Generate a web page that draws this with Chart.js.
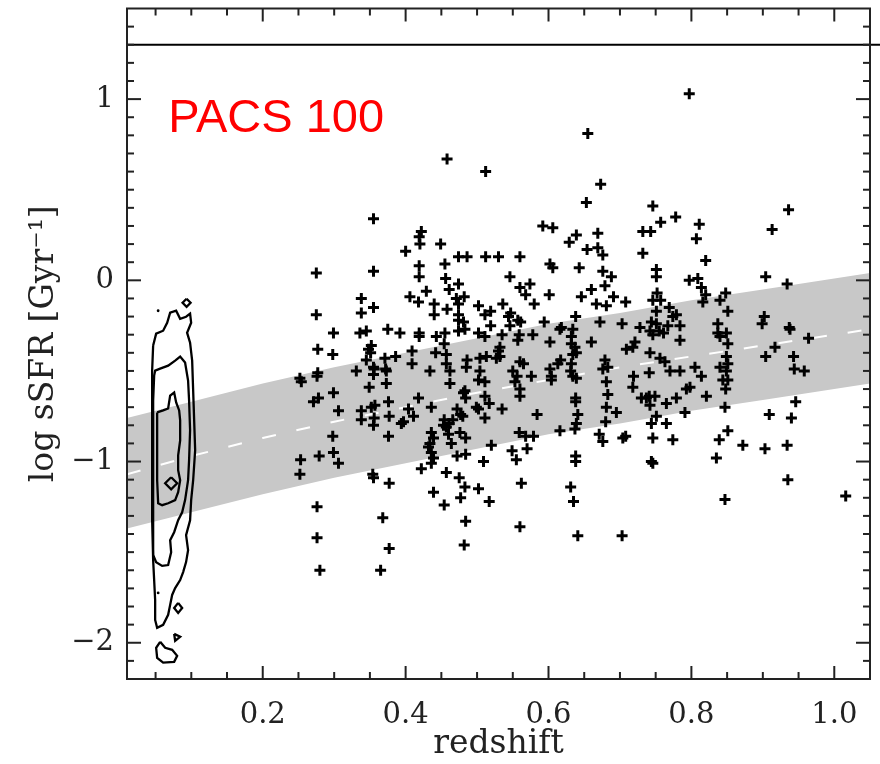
<!DOCTYPE html>
<html><head><meta charset="utf-8">
<script src="https://cdn.jsdelivr.net/npm/chart.js@4.4.1/dist/chart.umd.min.js"></script>
<style>html,body{margin:0;padding:0;background:#fff;}canvas{display:block;}</style>
</head><body>
<canvas id="c" width="880" height="764"></canvas>
<script>
// ---- axes ----
const xRange = [0.01, 1.05];
const yRange = [-2.2, 1.5];
const xTicks = [0.2, 0.4, 0.6, 0.8, 1.0];
const yTicks = [-2, -1, 0, 1];
const xMinorStep = 0.05;
const yMinorStep = 0.1;
const refLineY = 1.3;
const panelLabel = 'PACS 100';
const xTitle = 'redshift';
const yTitle = 'log sSFR [Gyr\u207B\u00B9]';

// ---- main-sequence band ----
const bandZ     = [0.01, 0.1, 0.2, 0.3, 0.4, 0.5, 0.6, 0.7, 0.8, 0.9, 1.0, 1.05];
const bandUpper = [-0.76, -0.67, -0.57, -0.48, -0.40, -0.32, -0.24, -0.18, -0.11, -0.05, 0.01, 0.04];
const bandMid   = [-1.07, -0.97, -0.87, -0.78, -0.70, -0.62, -0.55, -0.48, -0.42, -0.36, -0.30, -0.27];
const bandLower = [-1.37, -1.28, -1.18, -1.09, -1.01, -0.93, -0.85, -0.79, -0.72, -0.66, -0.60, -0.57];

// ---- PACS 100 detected galaxies: [redshift, log sSFR] ----
const galaxies = [
[0.458,0.67],[0.512,0.60],[0.355,0.34],[0.419,0.24],[0.422,0.27],[0.420,0.20],[0.449,0.20],[0.400,0.16],
[0.474,0.13],[0.486,0.13],[0.512,0.13],[0.530,0.13],[0.275,0.04],[0.355,0.05],[0.419,0.08],[0.419,0.02],
[0.455,0.09],[0.456,0.01],[0.474,-0.02],[0.429,-0.06],[0.461,-0.05],[0.406,-0.09],[0.418,-0.12],[0.482,-0.09],
[0.471,-0.10],[0.338,-0.10],[0.338,-0.18],[0.355,-0.15],[0.275,-0.19],[0.440,-0.13],[0.440,-0.19],[0.458,-0.16],
[0.474,-0.13],[0.474,-0.19],[0.502,-0.14],[0.511,-0.19],[0.519,-0.17],[0.299,-0.29],[0.336,-0.29],[0.345,-0.28],
[0.375,-0.27],[0.392,-0.29],[0.474,-0.22],[0.481,-0.23],[0.474,-0.28],[0.483,-0.27],[0.519,-0.25],[0.419,-0.29],
[0.419,-0.31],[0.443,-0.31],[0.455,-0.29],[0.454,-0.35],[0.502,-0.29],[0.511,-0.31],[0.277,-0.38],[0.298,-0.41],
[0.348,-0.38],[0.352,-0.36],[0.351,-0.40],[0.345,-0.44],[0.355,-0.48],[0.371,-0.43],[0.373,-0.50],[0.386,-0.42],
[0.409,-0.39],[0.409,-0.46],[0.434,-0.50],[0.442,-0.40],[0.457,-0.41],[0.457,-0.46],[0.462,-0.50],[0.486,-0.44],
[0.485,-0.48],[0.504,-0.43],[0.513,-0.42],[0.530,-0.39],[0.527,-0.43],[0.504,-0.50],[0.502,-0.55],[0.511,-0.56],
[0.252,-0.54],[0.254,-0.56],[0.277,-0.51],[0.276,-0.53],[0.331,-0.50],[0.356,-0.49],[0.355,-0.52],[0.372,-0.49],
[0.349,-0.59],[0.373,-0.57],[0.462,-0.57],
[0.797,1.03],[0.655,0.81],[0.673,0.53],[0.653,0.43],[0.592,0.30],[0.606,0.29],[0.629,0.21],[0.639,0.25],
[0.669,0.26],[0.654,0.17],[0.669,0.18],[0.676,0.14],[0.746,0.41],[0.757,0.32],[0.778,0.35],[0.732,0.27],
[0.743,0.27],[0.811,0.31],[0.807,0.23],[0.820,0.11],[0.732,0.15],[0.913,0.28],[0.936,0.39],[0.560,0.13],
[0.602,0.09],[0.606,0.07],[0.643,0.07],[0.676,0.05],[0.688,0.02],[0.679,-0.03],[0.660,-0.05],[0.646,-0.09],
[0.546,0.02],[0.560,-0.04],[0.574,-0.02],[0.568,-0.08],[0.580,-0.13],[0.601,-0.08],[0.667,-0.13],[0.681,-0.14],
[0.691,-0.09],[0.708,-0.12],[0.751,0.06],[0.751,0.02],[0.752,-0.07],[0.746,-0.11],[0.757,-0.11],[0.769,-0.15],
[0.751,-0.17],[0.797,0.00],[0.809,0.01],[0.814,-0.04],[0.820,-0.08],[0.816,-0.12],[0.840,-0.11],[0.848,-0.07],
[0.851,-0.17],[0.904,0.02],[0.934,-0.02],[0.902,-0.20],[0.899,-0.24],[0.937,-0.26],[0.938,-0.27],[0.964,-0.32],
[0.917,-0.37],[0.904,-0.42],[0.943,-0.42],[0.944,-0.49],[0.958,-0.50],[0.536,-0.13],[0.544,-0.20],[0.547,-0.18],
[0.557,-0.22],[0.561,-0.23],[0.546,-0.25],[0.559,-0.30],[0.557,-0.33],[0.578,-0.30],[0.594,-0.23],[0.616,-0.27],
[0.618,-0.26],[0.634,-0.27],[0.638,-0.20],[0.672,-0.23],[0.703,-0.24],[0.728,-0.26],[0.744,-0.23],[0.751,-0.24],
[0.742,-0.28],[0.746,-0.30],[0.755,-0.28],[0.761,-0.29],[0.774,-0.20],[0.779,-0.19],[0.784,-0.25],[0.767,-0.25],
[0.837,-0.24],[0.837,-0.29],[0.840,-0.31],[0.849,-0.29],[0.851,-0.35],[0.849,-0.42],[0.851,-0.46],[0.840,-0.48],
[0.849,-0.50],[0.844,-0.55],[0.851,-0.55],[0.848,-0.60],[0.602,-0.34],[0.660,-0.34],[0.632,-0.31],[0.632,-0.35],
[0.637,-0.37],[0.634,-0.41],[0.639,-0.40],[0.632,-0.46],[0.532,-0.37],[0.532,-0.42],[0.560,-0.45],[0.565,-0.46],
[0.576,-0.53],[0.617,-0.44],[0.613,-0.46],[0.602,-0.49],[0.604,-0.53],[0.604,-0.55],[0.631,-0.50],[0.634,-0.53],
[0.639,-0.54],[0.679,-0.44],[0.676,-0.49],[0.683,-0.48],[0.681,-0.56],[0.709,-0.38],[0.718,-0.37],[0.721,-0.34],
[0.719,-0.53],[0.718,-0.59],[0.741,-0.51],[0.742,-0.40],[0.756,-0.43],[0.763,-0.45],[0.770,-0.50],[0.784,-0.50],
[0.784,-0.33],[0.805,-0.48],[0.814,-0.53],[0.793,-0.60],[0.798,-0.59],[0.550,-0.50],[0.556,-0.53],[0.553,-0.56],
[0.560,-0.60],[0.535,-0.30],
[0.299,-0.62],[0.271,-0.67],[0.278,-0.65],[0.306,-0.72],[0.338,-0.72],[0.338,-0.77],[0.352,-0.70],[0.357,-0.69],
[0.356,-0.76],[0.355,-0.80],[0.376,-0.67],[0.377,-0.75],[0.376,-0.86],[0.298,-0.86],[0.253,-0.99],[0.252,-1.07],
[0.279,-0.97],[0.299,-0.95],[0.306,-1.01],[0.354,-1.07],[0.355,-1.09],[0.377,-1.12],[0.404,-0.71],[0.411,-0.75],
[0.397,-0.78],[0.394,-0.79],[0.418,-0.65],[0.436,-0.70],[0.483,-0.61],[0.484,-0.65],[0.481,-0.62],[0.511,-0.64],
[0.517,-0.68],[0.499,-0.70],[0.502,-0.71],[0.472,-0.71],[0.477,-0.74],[0.466,-0.77],[0.480,-0.75],[0.454,-0.77],
[0.461,-0.79],[0.457,-0.81],[0.453,-0.80],[0.436,-0.84],[0.439,-0.87],[0.434,-0.90],[0.432,-0.92],[0.436,-0.95],
[0.439,-0.98],[0.436,-1.01],[0.422,-1.04],[0.460,-0.85],[0.476,-0.84],[0.484,-0.87],[0.464,-0.90],[0.472,-0.97],
[0.484,-0.96],[0.509,-1.00],[0.520,-0.91],[0.511,-0.76],[0.535,-0.71],[0.457,-1.06],[0.475,-1.09],[0.483,-1.14],
[0.477,-1.20],[0.439,-1.17],[0.454,-1.24],[0.502,-1.15],[0.517,-1.22],[0.484,-1.33],[0.482,-1.46],[0.368,-1.31],
[0.377,-1.48],[0.276,-1.25],[0.276,-1.42],[0.280,-1.60],[0.365,-1.60],[0.560,-0.64],[0.559,-0.84],[0.549,-0.94],
[0.555,-0.99],
[0.584,-0.74],[0.616,-0.83],[0.568,-0.86],[0.579,-0.86],[0.570,-0.93],[0.562,-1.12],[0.560,-1.36],[0.638,-0.65],
[0.638,-0.67],[0.641,-0.74],[0.639,-0.79],[0.637,-0.82],[0.638,-0.97],[0.638,-1.00],[0.631,-1.14],[0.635,-1.22],
[0.641,-1.41],[0.683,-0.63],[0.681,-0.70],[0.695,-0.73],[0.680,-0.78],[0.671,-0.85],[0.676,-0.89],[0.704,-0.87],
[0.708,-0.86],[0.730,-0.65],[0.737,-0.65],[0.741,-0.64],[0.749,-0.64],[0.742,-0.69],[0.751,-0.75],[0.744,-0.79],
[0.765,-0.68],[0.765,-0.79],[0.779,-0.65],[0.791,-0.73],[0.821,-0.64],[0.746,-0.87],[0.774,-0.88],[0.744,-1.00],
[0.746,-1.01],[0.703,-1.41],[0.847,-0.70],[0.851,-0.83],[0.839,-0.88],[0.835,-0.98],[0.847,-1.21],[0.872,-0.91],
[0.903,-0.93],[0.909,-0.74],[0.940,-0.76],[0.946,-0.67],[0.934,-0.91],[0.935,-1.10],[1.016,-1.19]
];

// ---- local (SDSS) density contours: [redshift, log sSFR] ----
const contourOuter = [
[0.0466,-0.360],[0.0508,-0.294],[0.0606,-0.278],[0.0662,-0.234],[0.0704,-0.179],[0.0788,-0.168],[0.0844,-0.212],
[0.0927,-0.201],[0.0983,-0.184],[0.0998,-0.234],[0.0941,-0.289],[0.0983,-0.344],[0.1012,-0.443],[0.1026,-0.608],
[0.1040,-0.773],[0.1054,-0.938],[0.1026,-1.103],[0.0998,-1.213],[0.0983,-1.324],[0.0927,-1.406],[0.0955,-1.489],
[0.0927,-1.555],[0.0886,-1.610],[0.0844,-1.654],[0.0774,-1.698],[0.0732,-1.736],[0.0704,-1.791],[0.0676,-1.846],
[0.0606,-1.901],[0.0522,-1.918],[0.0494,-1.874],[0.0494,-1.764],[0.0480,-1.654],[0.0466,-1.544],[0.0452,-1.324],
[0.0452,-1.103],[0.0452,-0.883],[0.0452,-0.663],[0.0452,-0.498],[0.0466,-0.360]
];
const contourMiddle = [
[0.0480,-0.526],[0.0494,-0.498],[0.0564,-0.487],[0.0676,-0.471],[0.0774,-0.443],[0.0844,-0.421],[0.0913,-0.454],
[0.0955,-0.553],[0.0969,-0.663],[0.0983,-0.828],[0.0969,-0.993],[0.0955,-1.103],[0.0913,-1.213],[0.0872,-1.280],
[0.0816,-1.324],[0.0760,-1.390],[0.0704,-1.434],[0.0718,-1.500],[0.0676,-1.571],[0.0592,-1.576],[0.0508,-1.555],
[0.0466,-1.516],[0.0466,-1.213],[0.0466,-0.883],[0.0466,-0.663],[0.0480,-0.526]
];
const contourInner = [
[0.0522,-0.729],[0.0606,-0.718],[0.0676,-0.707],[0.0704,-0.636],[0.0760,-0.619],[0.0788,-0.674],[0.0830,-0.718],
[0.0844,-0.773],[0.0844,-0.883],[0.0816,-0.966],[0.0816,-1.048],[0.0844,-1.103],[0.0816,-1.169],[0.0774,-1.213],
[0.0676,-1.230],[0.0592,-1.241],[0.0536,-1.230],[0.0522,-1.103],[0.0522,-0.938],[0.0522,-0.801],[0.0522,-0.729]
];
const contourIslands = [
[[0.0934,-0.102],[0.0990,-0.124],[0.0934,-0.146],[0.0878,-0.124],[0.0934,-0.102]],
[[0.0718,-1.087],[0.0802,-1.120],[0.0718,-1.153],[0.0634,-1.120],[0.0718,-1.087]],
[[0.0816,-1.780],[0.0872,-1.808],[0.0816,-1.835],[0.0760,-1.808],[0.0816,-1.780]],
[[0.0760,-1.951],[0.0844,-1.967],[0.0774,-1.989],[0.0760,-1.951]],
[[0.0564,-1.995],[0.0634,-2.028],[0.0732,-2.039],[0.0802,-2.072],[0.0760,-2.105],[0.0606,-2.110],[0.0522,-2.083],[0.0508,-2.028],[0.0564,-1.995]]
];
const contourDots = [[0.0536,-0.168],[0.0536,-1.725]];

const toXY = arr => arr.map(([x, y]) => ({x, y}));
const serif = '"DejaVu Serif", "Liberation Serif", serif';
const tickFont = { family: serif, size: 29 };
const titleFont = { family: serif, size: 33 };

const framePlugin = {
  id: 'frame',
  afterDatasetsDraw(chart) {
    const {ctx, chartArea: a, scales: {x, y}} = chart;
    ctx.save();
    const seg = (x1, y1, x2, y2) => { ctx.beginPath(); ctx.moveTo(x1, y1); ctx.lineTo(x2, y2); ctx.stroke(); };
    ctx.strokeStyle = '#000'; ctx.lineWidth = 2;
    const yr = y.getPixelForValue(refLineY);
    seg(a.left, yr, chart.width, yr);
    ctx.strokeStyle = '#222'; ctx.lineWidth = 2;
    ctx.strokeRect(a.left, a.top, a.right - a.left, a.bottom - a.top);
    for (let i = 1; i * xMinorStep < xRange[1] - 1e-9; i++) {
      const v = i * xMinorStep;
      if (v <= xRange[0]) continue;
      const px = x.getPixelForValue(v);
      const major = xTicks.some(t => Math.abs(t - v) < 1e-6);
      const len = major ? 13 : 7;
      seg(px, a.bottom, px, a.bottom - len);
      seg(px, a.top, px, a.top + len);
    }
    for (let k = Math.ceil(yRange[0] / yMinorStep) + 1; k * yMinorStep < yRange[1] - 1e-9; k++) {
      const v = k * yMinorStep;
      const py = y.getPixelForValue(v);
      const major = yTicks.some(t => Math.abs(t - v) < 1e-6);
      const len = major ? 14 : 7;
      seg(a.left, py, a.left + len, py);
      seg(a.right, py, a.right - len, py);
    }
    ctx.fillStyle = '#ff0000';
    ctx.font = '47px "Liberation Sans", Arial, sans-serif';
    ctx.textBaseline = 'alphabetic';
    ctx.textAlign = 'left';
    ctx.fillText(panelLabel, x.getPixelForValue(0.0676), y.getPixelForValue(0.817));
    ctx.restore();
  }
};

const contourDatasets = [contourOuter, contourMiddle, contourInner, ...contourIslands].map(c => ({
  type: 'line', data: toXY(c), borderColor: '#000', borderWidth: 2.3, pointRadius: 0,
  tension: 0, fill: false, showLine: true, order: 1
}));

new Chart(document.getElementById('c'), {
  type: 'scatter',
  data: {
    datasets: [
      { label: 'PACS 100', data: toXY(galaxies), pointStyle: 'cross', pointRadius: 5.5,
        pointBorderWidth: 3, borderColor: '#000', backgroundColor: '#000', order: 0 },
      { label: 'dots', data: toXY(contourDots), pointStyle: 'circle', pointRadius: 1.4,
        borderColor: '#000', backgroundColor: '#000', borderWidth: 0, order: 1 },
      ...contourDatasets,
      { type: 'line', label: 'mid', data: toXY(bandZ.map((z, i) => [z, bandMid[i]])),
        borderColor: '#ffffff', borderWidth: 2, borderDash: [14, 21], pointRadius: 0, fill: false, order: 2 },
      { type: 'line', label: 'upper', data: toXY(bandZ.map((z, i) => [z, bandUpper[i]])),
        borderColor: 'rgba(0,0,0,0)', borderWidth: 0, pointRadius: 0, backgroundColor: '#c8c8c8', fill: '+1', order: 3 },
      { type: 'line', label: 'lower', data: toXY(bandZ.map((z, i) => [z, bandLower[i]])),
        borderColor: 'rgba(0,0,0,0)', borderWidth: 0, pointRadius: 0, fill: false, order: 3 }
    ]
  },
  options: {
    responsive: false, animation: false, devicePixelRatio: 1,
    layout: { padding: { top: 8, right: 10, left: 0, bottom: 0 } },
    plugins: { legend: { display: false }, tooltip: { enabled: false } },
    scales: {
      x: {
        type: 'linear', min: xRange[0], max: xRange[1],
        grid: { display: false, drawTicks: false }, border: { display: false },
        afterBuildTicks: s => { s.ticks = xTicks.map(v => ({ value: v })); },
        afterFit: s => { s.height = 85; s.paddingLeft = 0; s.paddingRight = 0; },
        ticks: { padding: 19, color: '#222', autoSkip: false, maxRotation: 0,
                 font: tickFont, callback: v => Number(v).toFixed(1) },
        title: { display: true, text: xTitle, color: '#222', font: titleFont,
                 padding: { top: 0, bottom: 0 } }
      },
      y: {
        type: 'linear', min: yRange[0], max: yRange[1],
        grid: { display: false, drawTicks: false }, border: { display: false },
        afterBuildTicks: s => { s.ticks = yTicks.map(v => ({ value: v })); },
        afterFit: s => { s.width = 127; s.paddingTop = 0; s.paddingBottom = 0; },
        ticks: { padding: 13, color: '#222', font: tickFont,
                 callback: v => v < 0 ? '\u2212' + Math.abs(v) : String(v) },
        title: { display: true, text: yTitle, color: '#222', font: titleFont,
                 padding: { top: 25, bottom: 0 } }
      }
    }
  },
  plugins: [framePlugin]
});
</script>
</body></html>
